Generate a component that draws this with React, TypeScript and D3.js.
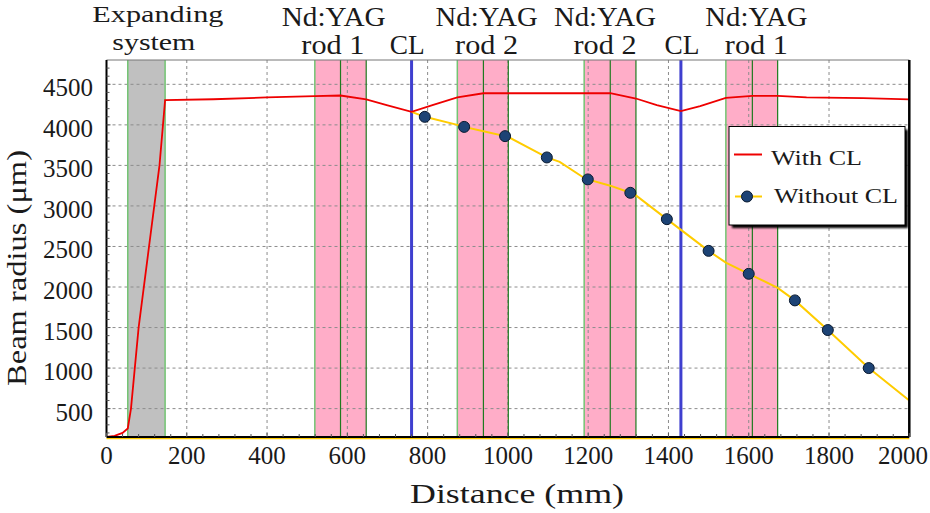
import React from "react";
import * as d3 from "d3";

// ---- data ----
const withCLx = [0, 20, 40, 53, 61, 80, 106, 132, 146, 266, 399, 519, 583, 647, 698, 760, 814, 874, 939, 1255, 1319, 1371, 1431, 1479, 1543, 1609, 1672, 1744, 1885, 2000];
const withCLy = [150, 165, 200, 255, 500, 1500, 2500, 3500, 4305, 4316, 4338, 4354, 4362, 4313, 4243, 4160, 4247, 4338, 4390, 4390, 4325, 4243, 4170, 4230, 4333, 4358, 4358, 4340, 4330, 4315];

const withoutCLx = [760, 793, 874, 891, 939, 993, 1001, 1097, 1129, 1190, 1199, 1255, 1305, 1319, 1396, 1500, 1543, 1600, 1672, 1715, 1797, 1899, 2000];
const withoutCLy = [4160, 4099, 4000, 3975, 3920, 3861, 3850, 3598, 3544, 3345, 3327, 3250, 3162, 3130, 2837, 2446, 2300, 2163, 1990, 1835, 1469, 1000, 600];

const dotX = [793, 891, 993, 1097, 1199, 1305, 1396, 1500, 1600, 1715, 1797, 1899];
const dotY = [4099, 3975, 3861, 3598, 3327, 3162, 2837, 2446, 2163, 1835, 1469, 1000];

// elements along the beam path (mm)
const expanderStart = 53;
const expanderEnd = 146;
const rodStarts = [519, 874, 1190, 1543];
const rodMids = [583, 939, 1255, 1609];
const rodEnds = [647, 1001, 1319, 1672];
const clPositions = [760, 1431];

const xTicks = [0, 200, 400, 600, 800, 1000, 1200, 1400, 1600, 1800, 2000];
const yTicks = [500, 1000, 1500, 2000, 2500, 3000, 3500, 4000, 4500];

const labelLine1 = ["Expanding", "Nd:YAG", "Nd:YAG", "Nd:YAG", "Nd:YAG"];
const labelLine1X = [128, 566, 947, 1242, 1619];
const labelLine2 = ["system", "rod 1", "CL", "rod 2", "rod 2", "CL", "rod 1"];
const labelLine2X = [118, 564, 749, 947, 1242, 1434, 1619];

const seriesNames = ["With CL", "Without CL"];

export default function App() {
  const W = 930, H = 513;
  const left = 106.5, right = 909.3, top = 60, bottom = 437;
  const x = d3.scaleLinear().domain([0, 2000]).range([left, right]);
  const y = d3.scaleLinear().domain([150, 4800]).range([bottom, top]);

  const font = "Liberation Serif, DejaVu Serif, serif";
  const red = "#ee0000";
  const yellow = "#ffcc00";
  const pink = "#ffadc8";
  const lightGreen = "#72c472";
  const darkGreen = "#1f7a1f";
  const blue = "#3f3fcf";
  const ink = "#1a1a1a";

  const line = d3.line<[number, number]>().x(d => x(d[0])).y(d => y(d[1]));
  const redPath = line(withCLx.map((v, i) => [v, withCLy[i]]) as [number, number][]) || "";
  const yelPath = line(withoutCLx.map((v, i) => [v, withoutCLy[i]]) as [number, number][]) || "";

  const minorX = d3.range(0, 2001, 40);
  const minorY = d3.range(200, 4800, 100);

  const l1Widths = [131, 104, 102, 102, 102];
  const l2Widths = [83, 63, 35, 63, 63, 35, 63];

  return (
    <svg width={W} height={H} style={{ position: "absolute", left: 0, top: 0, background: "#fff", fontFamily: font }}>
      <defs>
        <filter id="sh" x="-10%" y="-10%" width="130%" height="130%">
          <feGaussianBlur stdDeviation="1.2" />
        </filter>
        <clipPath id="plot"><rect x={left} y={top} width={right - left} height={bottom - top} /></clipPath>
      </defs>
      <rect x={0} y={0} width={W} height={H} fill="#fff" />

      {/* bands */}
      <rect x={x(expanderStart)} y={top} width={x(expanderEnd) - x(expanderStart)} height={bottom - top} fill="#c0c0c0" />
      {rodStarts.map((s, i) => (
        <rect key={"rb" + i} x={x(s)} y={top} width={x(rodEnds[i]) - x(s)} height={bottom - top} fill={pink} />
      ))}

      {/* grid */}
      {xTicks.slice(1, -1).map(t => (
        <line key={"gx" + t} x1={x(t)} x2={x(t)} y1={top} y2={bottom} stroke="#8c8c8c" strokeWidth={1} strokeDasharray="3,3" />
      ))}
      {yTicks.map(t => (
        <line key={"gy" + t} x1={left} x2={right} y1={y(t)} y2={y(t)} stroke="#8c8c8c" strokeWidth={1} strokeDasharray="3,3" />
      ))}

      {/* green edges */}
      <line x1={x(expanderStart)} x2={x(expanderStart)} y1={top} y2={bottom} stroke={lightGreen} strokeWidth={1.5} />
      <line x1={x(expanderEnd)} x2={x(expanderEnd)} y1={top} y2={bottom} stroke={lightGreen} strokeWidth={1.5} />
      {rodStarts.map((s, i) => (
        <g key={"rl" + i}>
          <line x1={x(s)} x2={x(s)} y1={top} y2={bottom} stroke={lightGreen} strokeWidth={1.5} />
          <line x1={x(rodMids[i])} x2={x(rodMids[i])} y1={top} y2={bottom} stroke={darkGreen} strokeWidth={1.2} />
          <line x1={x(rodEnds[i])} x2={x(rodEnds[i])} y1={top} y2={bottom} stroke={darkGreen} strokeWidth={1.2} />
        </g>
      ))}

      {/* CL lines */}
      {clPositions.map((c, i) => (
        <line key={"cl" + i} x1={x(c)} x2={x(c)} y1={top} y2={bottom + 2} stroke={blue} strokeWidth={3} />
      ))}

      {/* yellow base along the bottom */}
      <line x1={left} x2={right} y1={bottom + 1.5} y2={bottom + 1.5} stroke={yellow} strokeWidth={1.5} />

      {/* data */}
      <g clipPath="url(#plot)">
        <path d={yelPath} fill="none" stroke={yellow} strokeWidth={2} />
        <path d={redPath} fill="none" stroke={red} strokeWidth={1.8} />
        {dotX.map((v, i) => (
          <circle key={"d" + i} cx={x(v)} cy={y(dotY[i])} r={5.5} fill="#1d4375" stroke="#0a1a30" strokeWidth={1} />
        ))}
      </g>

      {/* frame */}
      <line x1={left} x2={right} y1={top} y2={top} stroke="#777" strokeWidth={1} />
      <line x1={left} x2={left} y1={top} y2={bottom} stroke="#000" strokeWidth={2} />
      <line x1={right} x2={right} y1={top} y2={bottom} stroke="#000" strokeWidth={2.5} />
      <line x1={left} x2={right} y1={bottom} y2={bottom} stroke="#000" strokeWidth={2} />

      {/* minor ticks */}
      {minorX.map(t => (
        <line key={"mx" + t} x1={x(t)} x2={x(t)} y1={bottom} y2={bottom - (t % 200 === 0 ? 4 : 3)} stroke="#555" strokeWidth={1} />
      ))}
      {minorY.map(t => (
        <line key={"my" + t} x1={left} x2={left + (t % 500 === 0 ? 4 : 3)} y1={y(t)} y2={y(t)} stroke="#555" strokeWidth={1} />
      ))}

      {/* tick labels */}
      {xTicks.map((t, i) => (
        <text key={"tx" + t} x={i === xTicks.length - 1 ? W - 2 : x(t)} y={464} textAnchor={i === xTicks.length - 1 ? "end" : "middle"} fontSize={25} fill={ink}>{t}</text>
      ))}
      {yTicks.map(t => (
        <text key={"ty" + t} x={93} y={y(t) + 12} textAnchor="end" fontSize={25} fill={ink}>{t}</text>
      ))}

      {/* axis titles */}
      <text x={517} y={503} textAnchor="middle" fontSize={28} fill={ink} textLength={214} lengthAdjust="spacingAndGlyphs">Distance (mm)</text>
      <text transform="translate(26,268) rotate(-90)" textAnchor="middle" fontSize={28} fill={ink} textLength={236} lengthAdjust="spacingAndGlyphs">Beam radius (μm)</text>

      {/* top annotations */}
      {labelLine1.map((s, i) => (
        <text key={"l1" + i} x={x(labelLine1X[i])} y={i === 0 ? 22 : 26} textAnchor="middle" fontSize={i === 0 ? 24 : 27} fill={ink} textLength={l1Widths[i]} lengthAdjust="spacingAndGlyphs">{s}</text>
      ))}
      {labelLine2.map((s, i) => (
        <text key={"l2" + i} x={x(labelLine2X[i])} y={i === 0 ? 50 : 54} textAnchor="middle" fontSize={i === 0 ? 24 : 27} fill={ink} textLength={l2Widths[i]} lengthAdjust="spacingAndGlyphs">{s}</text>
      ))}

      {/* legend */}
      <rect x={732} y={129.5} width={176} height={98.5} fill="#000" filter="url(#sh)" />
      <rect x={729} y={126.5} width={176} height={98.5} fill="#fff" stroke="#000" strokeWidth={1} />
      <line x1={734} x2={762} y1={154.5} y2={154.5} stroke={red} strokeWidth={2} />
      <text x={771} y={165} fontSize={21} fill={ink} textLength={91} lengthAdjust="spacingAndGlyphs">{seriesNames[0]}</text>
      <line x1={735} x2={762} y1={196.5} y2={196.5} stroke={yellow} strokeWidth={2} />
      <circle cx={747} cy={196.5} r={5.5} fill="#1d4375" stroke="#0a1a30" strokeWidth={1} />
      <text x={774} y={203} fontSize={21} fill={ink} textLength={124} lengthAdjust="spacingAndGlyphs">{seriesNames[1]}</text>
    </svg>
  );
}
